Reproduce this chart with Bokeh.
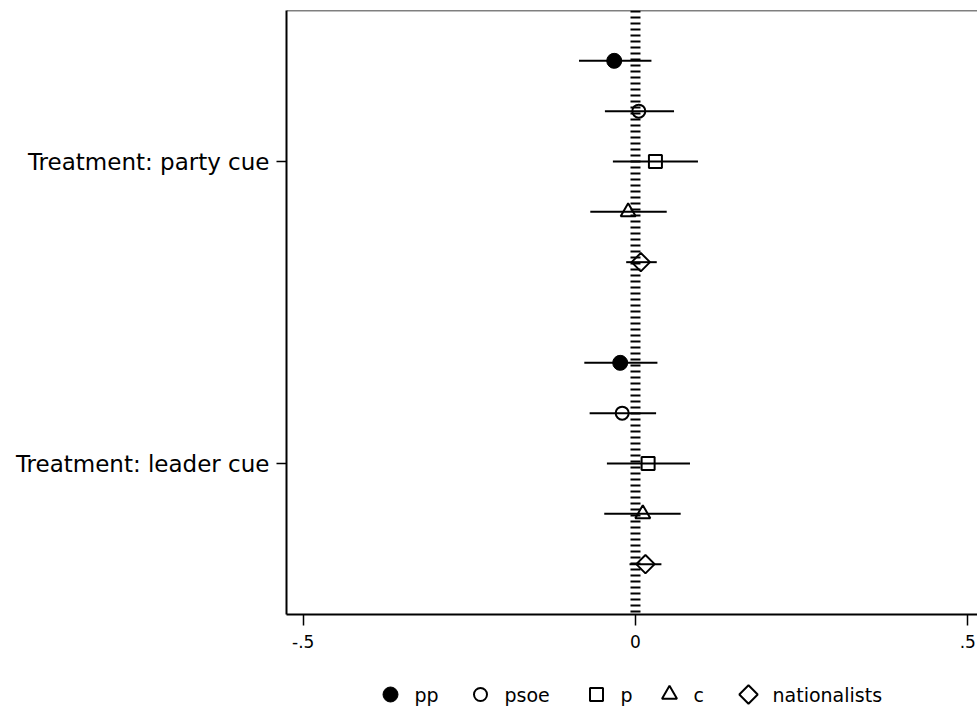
import numpy as np
from bokeh.plotting import figure
from bokeh.layouts import column
from bokeh.models import Range1d, FixedTicker, Span, ColumnDataSource
from bokeh.core.properties import value
from bokeh.embed import file_html
from bokeh.resources import INLINE

# ---- data ----
parties = ["pp", "psoe", "p", "c", "nationalists"]
treatments = ["Treatment: party cue", "Treatment: leader cue"]

party_est = [-0.032, 0.005, 0.030, -0.011, 0.008]
party_lo = [-0.085, -0.046, -0.034, -0.068, -0.014]
party_hi = [0.024, 0.058, 0.094, 0.047, 0.032]

leader_est = [-0.023, -0.020, 0.019, 0.011, 0.015]
leader_lo = [-0.077, -0.069, -0.043, -0.047, -0.009]
leader_hi = [0.033, 0.031, 0.082, 0.068, 0.039]

x_ticks = [-0.5, 0, 0.5]
x_tick_labels = ["-.5", "0", ".5"]

FONT = "DejaVu Sans"

# ---- layout helpers ----
group_centers = [3, 9]
offsets = [-2, -1, 0, 1, 2]
legend_marker_px = [390, 480, 596, 669, 748]   # legend layout (page px)
legend_label_gap = 24

styles = [
    dict(marker="circle", size=15, fill_color="black", line_color="black", line_width=1),
    dict(marker="circle", size=13, fill_color=None, line_color="black", line_width=2),
    dict(marker="square", size=13, fill_color=None, line_color="black", line_width=2),
    dict(marker="triangle", size=15, fill_color=None, line_color="black", line_width=2),
    dict(marker="square", size=13, angle=np.pi / 4, fill_color=None, line_color="black", line_width=2),
]

FRAME_LEFT = 286

p = figure(width=977, height=660, output_backend="svg", toolbar_location=None,
           x_range=Range1d(-0.5251, 0.5146), y_range=Range1d(12, 0),
           min_border_left=FRAME_LEFT, min_border_right=0, min_border_top=10,
           min_border_bottom=46, background_fill_color="white",
           border_fill_color="white")
p.outline_line_color = None
p.xgrid.visible = False
p.ygrid.visible = False

# zero reference line (dense dashes)
p.add_layout(Span(location=0, dimension="height", line_color="black",
                  line_width=10, line_dash="2 4", level="underlay"))
# top border
p.add_layout(Span(location=0, dimension="width", line_color="black",
                  line_width=1.5))

for i, name in enumerate(parties):
    ys = [group_centers[0] + offsets[i], group_centers[1] + offsets[i]]
    src = ColumnDataSource(dict(
        y=ys,
        est=[party_est[i], leader_est[i]],
        lo=[party_lo[i], leader_lo[i]],
        hi=[party_hi[i], leader_hi[i]],
    ))
    p.segment(x0="lo", x1="hi", y0="y", y1="y", source=src,
              line_color="black", line_width=2)
    p.scatter(x="est", y="y", source=src, **styles[i])

# axes
p.xaxis.ticker = FixedTicker(ticks=x_ticks)
p.xaxis.major_label_overrides = {t: l for t, l in zip(x_ticks, x_tick_labels)}
p.xaxis.minor_tick_line_color = None
p.xaxis.major_tick_out = 11
p.xaxis.major_tick_in = 0
p.xaxis.major_tick_line_width = 1.5
p.xaxis.axis_line_width = 2
p.xaxis.major_label_standoff = 9
p.xaxis.major_label_text_font = FONT
p.xaxis.major_label_text_font_size = "17px"
p.xaxis.major_label_text_color = "black"
p.xaxis.axis_line_color = "black"
p.xaxis.major_tick_line_color = "black"

p.yaxis.ticker = FixedTicker(ticks=group_centers)
p.yaxis.major_label_overrides = {c: t for c, t in zip(group_centers, treatments)}
p.yaxis.minor_tick_line_color = None
p.yaxis.major_tick_out = 10
p.yaxis.major_tick_in = 0
p.yaxis.major_tick_line_width = 1.5
p.yaxis.axis_line_width = 2
p.yaxis.major_label_standoff = 7
p.yaxis.major_label_text_font = FONT
p.yaxis.major_label_text_font_size = "23px"
p.yaxis.major_label_text_color = "black"
p.yaxis.axis_line_color = "black"
p.yaxis.major_tick_line_color = "black"

# ---- legend strip (page-pixel coordinates; frame aligned with the plot frame) ----
LH = 49
lg = figure(width=977, height=LH, output_backend="svg", toolbar_location=None,
            x_range=Range1d(FRAME_LEFT, 977), y_range=Range1d(LH, 0),
            x_axis_location=None, y_axis_location=None, min_border=0,
            min_border_left=FRAME_LEFT,
            background_fill_color="white", border_fill_color="white")
lg.outline_line_color = None
lg.xgrid.visible = False
lg.ygrid.visible = False
row_y = 34
for i, name in enumerate(parties):
    lg.scatter(x=[legend_marker_px[i]], y=[row_y], **styles[i])
lg.text(x=[mx + legend_label_gap for mx in legend_marker_px], y=[row_y] * len(parties),
        text=parties, text_font=value(FONT), text_font_size="19px",
        text_baseline="middle", text_align="left", text_color="black")

layout = column(p, lg, spacing=0)
open("out.html", "w").write(file_html(layout, INLINE))
